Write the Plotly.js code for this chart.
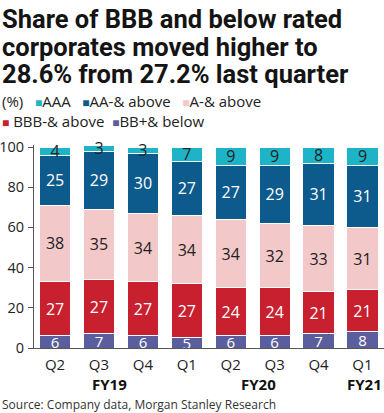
<!DOCTYPE html>
<html>
<head>
<meta charset="utf-8">
<script src="https://cdn.plot.ly/plotly-3.0.1.min.js"></script>
<style>
html,body{margin:0;padding:0;background:#fff;}
#chart{width:384px;height:413px;}
</style>
</head>
<body>
<div id="chart"></div>
<script>
// Data
const quarters = ["Q2","Q3","Q4","Q1","Q2","Q3","Q4","Q1"];
const fiscalYears = ["FY19","FY20","FY21"];
const seriesNames = ["BB+& below","BBB-& above","A-& above","AA-& above","AAA"];
const bbBelow   = [6, 7, 6, 5, 6, 6, 7, 8];
const bbbAbove  = [27, 27, 27, 27, 24, 24, 21, 21];
const aAbove    = [38, 35, 34, 34, 34, 32, 33, 31];
const aaAbove   = [25, 29, 30, 27, 27, 29, 31, 31];
const aaa       = [4, 3, 3, 7, 9, 9, 8, 9];
const yTicks = [0, 20, 40, 60, 80, 100];

const titleLines = ["Share of BBB and below rated","corporates moved higher to","28.6% from 27.2% last quarter"];
const unitLabel = "(%)";
const sourceText = "Source: Company data, Morgan Stanley Research";

// Styles
const colors = ["#5b5e9c","#c8202e","#f2c8c9","#0d5a8c","#1db4c8"];
const textColors = ["#ffffff","#ffffff","#222222","#ffffff","#222222"];
const textSizes = [15, 16, 16, 16, 16];
const FONT = "Open Sans, Noto Sans, sans-serif";
const TITLEFONT = "Roboto, sans-serif";

const xs = quarters.map((q,i)=>i);
const allSeries = [bbBelow, bbbAbove, aAbove, aaAbove, aaa];

const traces = allSeries.map((vals, k) => ({
  type: "bar",
  name: seriesNames[k],
  x: xs,
  y: vals,
  width: 0.71,
  marker: {color: colors[k], line: {color: "#ffffff", width: 1}},
  text: vals.map(String),
  textposition: "inside",
  insidetextanchor: "middle",
  constraintext: "none",
  textangle: 0,
  textfont: {family: FONT, size: textSizes[k], color: textColors[k]},
  cliponaxis: false,
  hoverinfo: "skip",
  showlegend: false
}));

const H = 413, W = 384;
const mt = 145, mb = 65, ml = 34, mr = 0;
const plotH = H - mt - mb;
const plotW = W - ml - mr;
function yPaper(px){ return (H - mb - px) / plotH; }
const xLeft = -ml / plotW;
const NB = "\u00A0";

const annotations = [];
// title: one block, tight line spacing via small base size and larger inner spans
annotations.push({
  xref: "paper", yref: "paper", x: xLeft, xanchor: "left",
  y: yPaper(2), yanchor: "top",
  text: titleLines.map(t => '<span style="font-size:25.5px"><b>' + t + '</b></span>').join("<br>"),
  showarrow: false, align: "left",
  font: {family: TITLEFONT, size: 21.3, color: "#141414"}
});

function sw(c){ return '<span style="color:' + c + ';font-size:12px">■</span>'; }
const leg1 = unitLabel + NB+NB+NB + sw(colors[4]) + seriesNames[4] + NB+NB+NB + sw(colors[3]) + seriesNames[3] + NB+NB+NB + sw(colors[2]) + seriesNames[2];
const leg2 = sw(colors[1]) + NB + seriesNames[1] + NB+NB + sw(colors[0]) + seriesNames[0];
annotations.push({xref:"paper", yref:"paper", x: xLeft, xanchor:"left", y: yPaper(89), yanchor:"top",
  text: leg1 + "<br>" + leg2, showarrow:false, align:"left",
  font:{family: FONT, size: 15, color:"#222"}});

// fiscal year labels
const fyX = [1.25, 4.63, 7.04];
fiscalYears.forEach((fy, i) => {
  annotations.push({xref:"x", yref:"paper", x: fyX[i], xanchor:"center", y: yPaper(384), yanchor:"middle",
    text:"<b>"+fy+"</b>", showarrow:false, font:{family: FONT, size: 15, color:"#111"}});
});
annotations.push({xref:"paper", yref:"paper", x: xLeft, xanchor:"left", y: yPaper(404), yanchor:"middle",
  text: sourceText, showarrow:false, font:{family: FONT, size: 12, color:"#333"}});

const layout = {
  width: W, height: H,
  margin: {l: ml, r: mr, t: mt, b: mb, pad: 0},
  paper_bgcolor: "#ffffff", plot_bgcolor: "#ffffff",
  barmode: "stack",
  showlegend: false,
  xaxis: {
    range: [-0.48, 7.49],
    tickvals: xs, ticktext: quarters,
    showgrid: false, zeroline: false,
    showline: true, linecolor: "#555", linewidth: 1,
    ticks: "", ticklabelstandoff: 3,
    tickfont: {family: FONT, size: 15, color: "#222"},
    fixedrange: true
  },
  yaxis: {
    range: [0, 101],
    tickvals: yTicks,
    showgrid: false, zeroline: false,
    showline: true, linecolor: "#555", linewidth: 1,
    ticks: "outside", ticklen: 5, tickcolor: "#555",
    ticklabelstandoff: 1,
    tickfont: {family: FONT, size: 14.5, color: "#222"},
    fixedrange: true
  },
  annotations: annotations
};

Plotly.newPlot("chart", traces, layout, {displayModeBar: false, staticPlot: true});
</script>
</body>
</html>
